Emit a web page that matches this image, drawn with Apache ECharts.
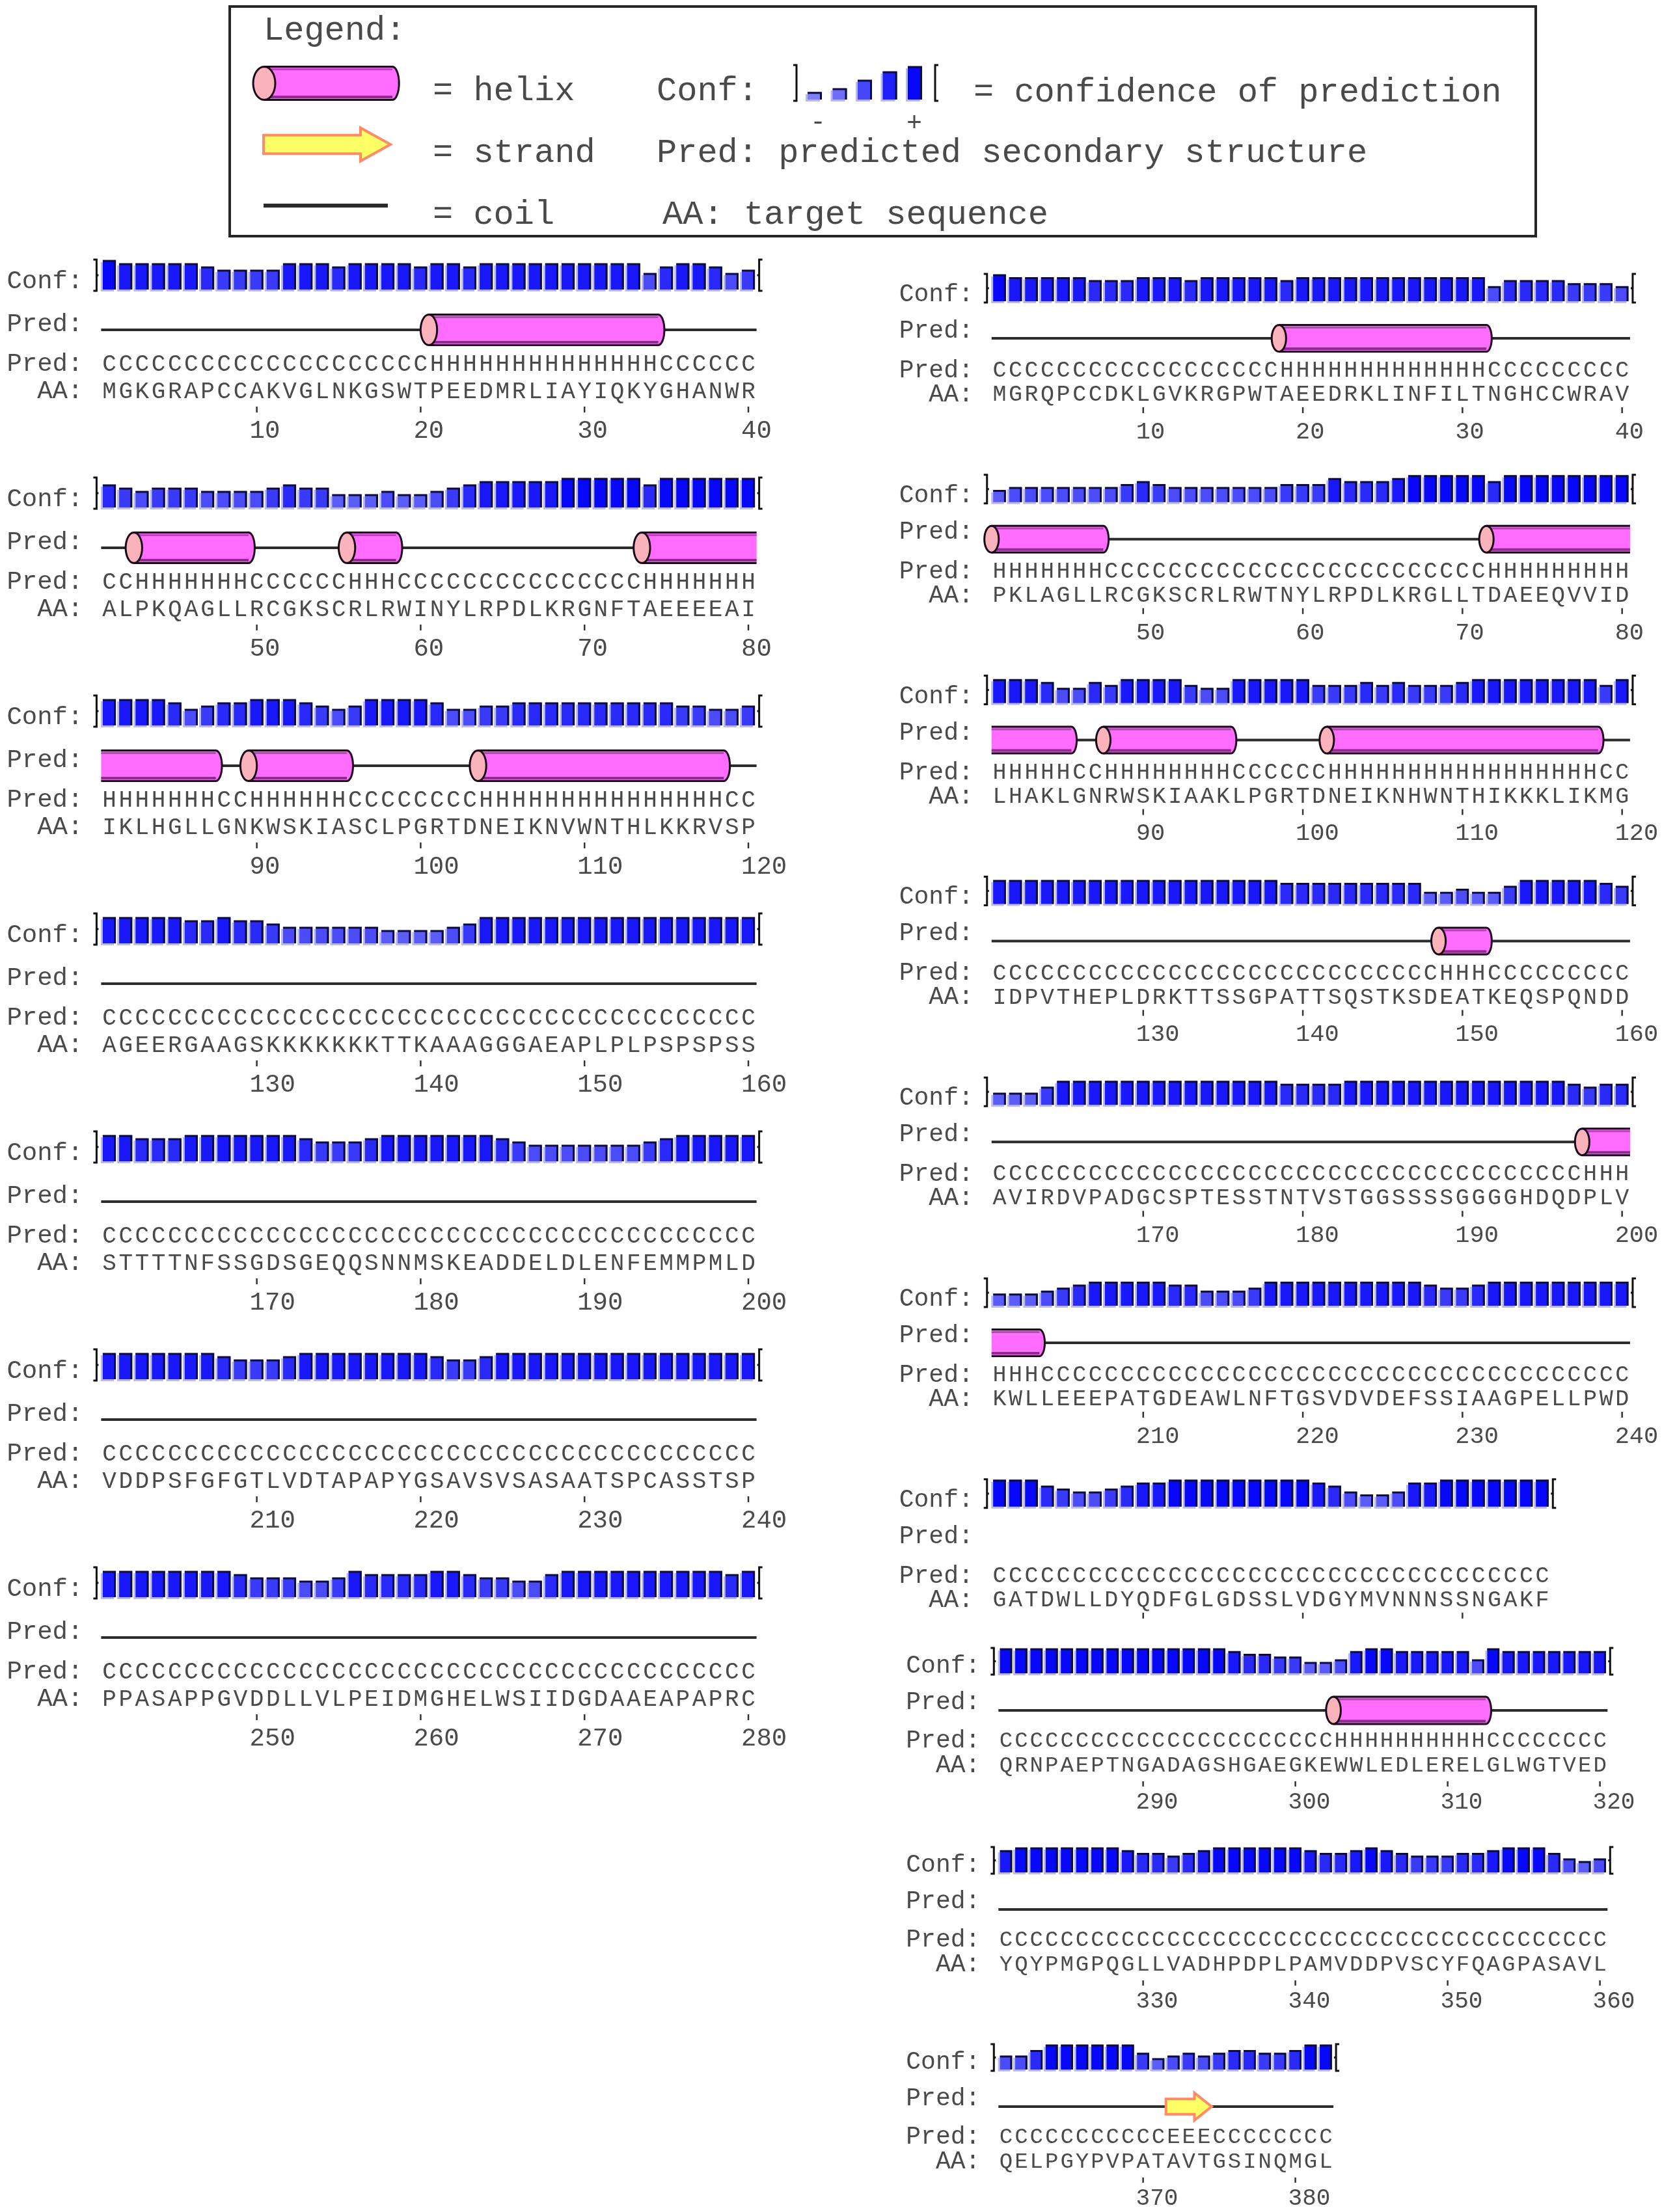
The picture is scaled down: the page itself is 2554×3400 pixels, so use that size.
<!DOCTYPE html>
<html>
<head>
<meta charset="utf-8">
<script src="https://cdn.jsdelivr.net/npm/echarts@6/dist/echarts.min.js"></script>
<style>
  html, body { margin: 0; padding: 0; background: #fff; }
  #chart { width: 2554px; height: 3400px; }
</style>
</head>
<body>
<div id="chart"></div>
<script>
// ---- data: left column (residues 1-280) ----
const leftStart = [1, 41, 81, 121, 161, 201, 241];
const leftAA = [
  'MGKGRAPCCAKVGLNKGSWTPEEDMRLIAYIQKYGHANWR',
  'ALPKQAGLLRCGKSCRLRWINYLRPDLKRGNFTAEEEEAI',
  'IKLHGLLGNKWSKIASCLPGRTDNEIKNVWNTHLKKRVSP',
  'AGEERGAAGSKKKKKKKTTKAAAGGGAEAPLPLPSPSPSS',
  'STTTTNFSSGDSGEQQSNNMSKEADDELDLENFEMMPMLD',
  'VDDPSFGFGTLVDTAPAPYGSAVSVSASAATSPCASSTSP',
  'PPASAPPGVDDLLVLPEIDMGHELWSIIDGDAAEAPAPRC'
];
const leftPred = [
  'CCCCCCCCCC' + 'CCCCCCCCCC' + 'HHHHHHHHHH' + 'HHHHCCCCCC',
  'CCHHHHHHHC' + 'CCCCCHHHCC' + 'CCCCCCCCCC' + 'CCCHHHHHHH',
  'HHHHHHHCCH' + 'HHHHHCCCCC' + 'CCCHHHHHHH' + 'HHHHHHHHCC',
  'CCCCCCCCCC' + 'CCCCCCCCCC' + 'CCCCCCCCCC' + 'CCCCCCCCCC',
  'CCCCCCCCCC' + 'CCCCCCCCCC' + 'CCCCCCCCCC' + 'CCCCCCCCCC',
  'CCCCCCCCCC' + 'CCCCCCCCCC' + 'CCCCCCCCCC' + 'CCCCCCCCCC',
  'CCCCCCCCCC' + 'CCCCCCCCCC' + 'CCCCCCCCCC' + 'CCCCCCCCCC'
];
const leftConf = [
  [9,8,8,8,8,8,7,6,6,6,6,8,8,8,7,8,8,8,8,7,8,8,7,8,8,8,8,8,8,8,8,8,8,5,7,8,8,7,5,6],
  [7,6,5,6,6,6,5,5,5,5,6,7,6,6,4,4,4,5,4,4,5,6,7,8,8,8,8,8,9,9,9,9,9,7,9,9,9,9,9,9],
  [8,8,8,8,7,5,6,7,7,8,8,8,7,6,5,6,8,8,8,8,7,5,5,6,6,7,7,7,7,7,7,7,7,7,7,6,6,5,5,6],
  [8,8,8,8,8,7,7,8,7,7,6,5,5,5,5,5,5,4,4,4,4,5,6,8,8,8,8,8,8,8,8,8,8,8,8,8,8,8,8,8],
  [8,8,7,7,7,8,8,8,8,8,8,8,7,6,6,6,7,8,8,8,8,8,8,8,7,6,5,5,5,5,5,5,5,6,7,8,8,8,8,8],
  [8,8,8,8,8,8,8,7,6,6,6,7,8,8,8,8,8,8,8,8,7,6,6,7,8,8,8,8,8,8,8,8,8,8,8,8,8,8,8,8],
  [8,8,8,8,8,8,8,8,7,6,6,6,5,5,6,8,7,7,7,7,8,8,7,6,6,5,5,7,8,8,8,8,8,8,8,8,8,8,7,8]
];

// ---- data: right column (residues 1-275, 281-382) ----
const rightStart = [1, 41, 81, 121, 161, 201, 241, 281, 321, 361];
const rightAA = [
  'MGRQPCCDKLGVKRGPWTAEEDRKLINFILTNGHCCWRAV',
  'PKLAGLLRCGKSCRLRWTNYLRPDLKRGLLTDAEEQVVID',
  'LHAKLGNRWSKIAAKLPGRTDNEIKNHWNTHIKKKLIKMG',
  'IDPVTHEPLDRKTTSSGPATTSQSTKSDEATKEQSPQNDD',
  'AVIRDVPADGCSPTESSTNTVSTGGSSSSGGGGHDQDPLV',
  'KWLLEEEPATGDEAWLNFTGSVDVDEFSSIAAGPELLPWD',
  'GATDWLLDYQDFGLGDSSLVDGYMVNNNSSNGAKF',
  'QRNPAEPTNGADAGSHGAEGKEWWLEDLERELGLWGTVED',
  'YQYPMGPQGLLVADHPDPLPAMVDDPVSCYFQAGPASAVL',
  'QELPGYPVPATAVTGSINQMGL'
];
const rightPred = [
  'CCCCCCCCCC' + 'CCCCCCCCHH' + 'HHHHHHHHHH' + 'HCCCCCCCCC',
  'HHHHHHHCCC' + 'CCCCCCCCCC' + 'CCCCCCCCCC' + 'CHHHHHHHHH',
  'HHHHHCCHHH' + 'HHHHHCCCCC' + 'CHHHHHHHHH' + 'HHHHHHHHCC',
  'CCCCCCCCCC' + 'CCCCCCCCCC' + 'CCCCCCCCHH' + 'HCCCCCCCCC',
  'CCCCCCCCCC' + 'CCCCCCCCCC' + 'CCCCCCCCCC' + 'CCCCCCCHHH',
  'HHHCCCCCCC' + 'CCCCCCCCCC' + 'CCCCCCCCCC' + 'CCCCCCCCCC',
  'CCCCCCCCCC' + 'CCCCCCCCCC' + 'CCCCCCCCCC' + 'CCCCC',
  'CCCCCCCCCC' + 'CCCCCCCCCC' + 'CCHHHHHHHH' + 'HHCCCCCCCC',
  'CCCCCCCCCC' + 'CCCCCCCCCC' + 'CCCCCCCCCC' + 'CCCCCCCCCC',
  'CCCCCCCCCC' + 'CEEECCCCCC' + 'CC'
];
const rightConf = [
  [9,8,8,8,8,8,7,7,7,8,8,8,7,8,8,8,8,8,7,8,8,8,8,8,8,8,8,8,8,8,8,5,7,7,7,7,6,6,6,5],
  [4,5,5,5,5,5,5,5,6,7,6,5,5,5,5,5,5,5,6,6,6,8,7,7,7,8,9,9,9,9,9,7,9,9,9,9,9,9,9,9],
  [8,8,8,7,5,5,7,6,8,8,8,8,6,5,5,8,8,8,8,8,6,6,6,7,6,7,6,6,6,7,8,8,8,8,8,8,8,8,6,8],
  [8,8,8,8,8,8,8,8,8,8,8,8,8,8,8,8,8,8,7,7,7,7,7,7,7,7,7,4,4,5,4,4,6,8,8,8,8,8,7,6],
  [4,4,4,6,8,8,8,8,8,8,8,8,8,8,8,8,8,8,7,7,7,7,8,8,8,8,8,8,8,8,8,8,8,8,8,8,7,6,7,7],
  [4,4,4,5,6,7,8,8,8,8,8,7,7,5,5,5,6,8,8,8,8,8,8,8,8,8,8,7,6,6,7,8,8,8,8,8,8,8,8,8],
  [9,9,9,7,6,5,5,6,7,8,8,9,9,9,9,9,9,9,9,9,8,7,5,4,4,5,8,8,9,9,9,9,9,9,9],
  [9,9,9,9,9,9,9,9,9,9,9,9,9,9,9,8,7,7,6,6,4,4,5,8,9,9,8,8,8,8,8,5,9,8,8,8,8,8,8,8],
  [8,9,9,9,9,9,9,9,8,7,7,6,7,8,9,9,9,9,9,9,8,7,7,8,9,8,7,6,6,6,7,7,8,9,9,9,7,5,4,5],
  [5,5,7,9,9,9,9,9,9,6,4,5,6,5,6,7,7,6,6,7,9,9]
];

const FONT = '"Liberation Mono", "DejaVu Sans Mono", monospace';
const INK = '#4a4a4a';

// ---- layout of the blocks ----
function leftLay(k) {
  return { x1: 168, step: 25.18, base: 445 + 335 * k, barH: 45, cylH: 47, fs: 36, lfs: 39, nfs: 39,
    off: { conf: -12, predLab: 54, line: 62, pred: 115, aa: 157, t1: 180, t2: 189, num: 218 },
    line: true, numbers: true };
}
function rightLay(k) {
  if (k < 7) {
    return { x1: 1536, step: 24.53, base: 463 + 308.8 * k, barH: 41, cylH: 41, fs: 35, lfs: 38, nfs: 37,
      off: { conf: -10, predLab: 46, line: 57, pred: 107, aa: 144, t1: 163, t2: 172, num: 201 },
      line: k !== 6, numbers: k !== 6 };
  }
  return { x1: 1546, step: 23.4, base: [2572, 2878, 3181][k - 7], barH: 38, cylH: 42, fs: 34, lfs: 38, nfs: 36,
    off: { conf: -11, predLab: 45, line: 57, pred: 104, aa: 142, t1: 166, t2: 174, num: 198 },
    line: true, numbers: true };
}

const blocks = [];
function addColumn(starts, aa, pred, conf, lay) {
  const col = starts.map(function (s, k) {
    return Object.assign({ start: s, aa: aa[k], pred: pred[k], conf: conf[k], n: aa[k].length }, lay(k));
  });
  col.forEach(function (b, k) {
    const prev = col[k - 1], next = col[k + 1];
    b.prevSS = prev && prev.start + prev.n === b.start ? prev.pred[prev.n - 1] : 'C';
    b.nextSS = next && b.start + b.n === next.start ? next.pred[0] : 'C';
    blocks.push(b);
  });
}
addColumn(leftStart, leftAA, leftPred, leftConf, leftLay);
addColumn(rightStart, rightAA, rightPred, rightConf, rightLay);

// runs of the same state -> [from, to, type, openLeft, openRight]
function segments(b) {
  const out = [];
  let i = 0;
  while (i < b.n) {
    const t = b.pred[i];
    let j = i;
    while (j + 1 < b.n && b.pred[j + 1] === t) j++;
    const openL = i === 0 && t !== 'C' && b.prevSS === t;
    const openR = j === b.n - 1 && t !== 'C' && b.nextSS === t;
    out.push([b.start + i, b.start + j, t === 'H' ? 1 : (t === 'E' ? 2 : 0), openL ? 1 : 0, openR ? 1 : 0]);
    i = j + 1;
  }
  return out.sort(function (a, c) { return a[2] - c[2]; });
}

// ---- drawing helpers ----
function label(x, y, s, size, align) {
  return { type: 'text', silent: true,
    style: { x: x, y: y, text: s, font: size + 'px ' + FONT, fill: INK, align: align || 'center', verticalAlign: 'middle' } };
}

function confColor(c) {
  const v = Math.max(0, Math.round(160 - 17 * c));
  return 'rgb(' + v + ',' + v + ',250)';
}

function barShapes(xc, w, yTop, yBot, c) {
  const x0 = xc - w / 2, h = yBot - yTop;
  return [
    { type: 'rect', shape: { x: x0 - 3, y: yTop + 3, width: w, height: h }, style: { fill: '#b9b9ea' } },
    { type: 'rect', shape: { x: x0, y: yTop, width: w, height: h }, style: { fill: confColor(c) } },
    { type: 'polyline', shape: { points: [[x0, yTop + 1], [x0 + w - 1.5, yTop + 1], [x0 + w - 1.5, yBot]] },
      style: { stroke: '#0c0c40', lineWidth: 3, fill: 'none' } }
  ];
}

// points along an ellipse arc
function arcPoints(cx, cy, rx, ry, a0, a1, n) {
  const pts = [];
  for (let i = 0; i <= n; i++) {
    const a = a0 + (a1 - a0) * i / n;
    pts.push([cx + rx * Math.cos(a), cy + ry * Math.sin(a)]);
  }
  return pts;
}

function helixShapes(xs, xe, yc, h, openL, openR, erx) {
  const top = yc - h / 2, bot = yc + h / 2;
  const cap = openR ? [[xe, top], [xe, bot]] : arcPoints(xe, yc, h * 0.2, h / 2, -Math.PI / 2, Math.PI / 2, 16);
  const outline = [[xs, top]].concat(cap, [[xs, bot]]);
  const els = [
    { type: 'polygon', shape: { points: outline }, style: { fill: '#ff6cff' } },
    { type: 'line', shape: { x1: xs, y1: top + 4, x2: xe, y2: top + 4 }, style: { stroke: '#b04cb0', lineWidth: 3 } },
    { type: 'line', shape: { x1: xs, y1: bot - 4.5, x2: xe, y2: bot - 4.5 }, style: { stroke: '#8a2e8a', lineWidth: 4 } }
  ];
  if (openR) {
    els.push({ type: 'line', shape: { x1: xs, y1: top, x2: xe, y2: top }, style: { stroke: '#1a0a1a', lineWidth: 3 } });
    els.push({ type: 'line', shape: { x1: xs, y1: bot, x2: xe, y2: bot }, style: { stroke: '#1a0a1a', lineWidth: 3 } });
  } else {
    els.push({ type: 'polyline', shape: { points: outline }, style: { fill: 'none', stroke: '#1a0a1a', lineWidth: 3 } });
  }
  if (!openL) {
    els.push({ type: 'polygon', shape: { points: arcPoints(xs, yc, erx, h / 2, 0, Math.PI * 2, 32) },
      style: { fill: '#fbb3bb', stroke: '#1a0a1a', lineWidth: 3 } });
  }
  return els;
}

function strandShapes(xs, xe, yc, h, hl) {
  const s = h * 0.28, t = h / 2, xh = xe - hl;
  return [{ type: 'polygon',
    shape: { points: [[xs, yc - s], [xh, yc - s], [xh, yc - t], [xe, yc], [xh, yc + t], [xh, yc + s], [xs, yc + s]] },
    style: { fill: '#ffff66', stroke: '#ff8a66', lineWidth: 4, lineJoin: 'miter' } }];
}

// ---- custom series renderers ----
function barItem(params, api) {
  const r = api.value(0), c = api.value(1);
  const bot = api.coord([r, 0]), top = api.coord([r, c]);
  const w = api.size([1, 0])[0] * 0.8;
  return { type: 'group', children: barShapes(bot[0], w, top[1], bot[1], c) };
}

function structItem(b) {
  return function (params, api) {
    const s = api.value(0), e = api.value(1), t = api.value(2);
    const a = api.coord([s - 0.5, 0]), z = api.coord([e + 0.5, 0]);
    const yc = a[1] + b.off.line;
    if (t === 0) {
      if (!b.line) return null;
      return { type: 'line', shape: { x1: a[0], y1: yc, x2: z[0], y2: yc }, style: { stroke: '#2b2b2b', lineWidth: 4 } };
    }
    if (t === 1) {
      return { type: 'group', children: helixShapes(a[0], z[0], yc, b.cylH, api.value(3) === 1, api.value(4) === 1, b.cylH * 0.27) };
    }
    return { type: 'group', children: strandShapes(a[0], z[0], yc, b.cylH, b.cylH * 0.63) };
  };
}

function seqItem(b) {
  return function (params, api) {
    const r = api.value(0), i = r - b.start;
    const p = api.coord([r, 0]);
    const ch = [
      label(p[0], p[1] + b.off.pred, b.pred[i], b.fs),
      label(p[0], p[1] + b.off.aa, b.aa[i], b.fs)
    ];
    if (r % 10 === 0) {
      ch.push({ type: 'line', shape: { x1: p[0], y1: p[1] + b.off.t1, x2: p[0], y2: p[1] + b.off.t2 },
        style: { stroke: '#333', lineWidth: 2.5 } });
      if (b.numbers) ch.push(label(p[0] - 11, p[1] + b.off.num, String(r), b.nfs, 'left'));
    }
    return { type: 'group', children: ch };
  };
}

function frameItem(b) {
  return function (params, api) {
    const lo = api.coord([api.value(0) - 0.5, 0]), hi = api.coord([api.value(1) + 0.5, 9]);
    const top = hi[1] - 1, bot = lo[1] + 2, mid = (top + bot) / 2;
    const xl = lo[0] - 7, xr = hi[0] + 4, lx = lo[0] - 28;
    const ink = { stroke: '#111', lineWidth: 3, fill: 'none' };
    return { type: 'group', children: [
      { type: 'polyline', shape: { points: [[xl - 5, top], [xl, top], [xl, bot], [xl - 5, bot]] }, style: ink },
      { type: 'line', shape: { x1: xl, y1: mid, x2: xl + 3, y2: mid }, style: ink },
      { type: 'polyline', shape: { points: [[xr + 5, top], [xr, top], [xr, bot], [xr + 5, bot]] }, style: ink },
      { type: 'line', shape: { x1: xr, y1: mid, x2: xr - 3, y2: mid }, style: ink },
      label(lx, lo[1] + b.off.conf, 'Conf:', b.lfs, 'right'),
      label(lx, lo[1] + b.off.predLab, 'Pred:', b.lfs, 'right'),
      label(lx, lo[1] + b.off.pred, 'Pred:', b.lfs, 'right'),
      label(lx, lo[1] + b.off.aa, 'AA:', b.lfs, 'right')
    ] };
  };
}

// ---- option ----
const grid = [], xAxis = [], yAxis = [], series = [];
blocks.forEach(function (b, k) {
  grid.push({ left: b.x1 - b.step / 2, top: b.base - b.barH, width: b.n * b.step, height: b.barH });
  xAxis.push({ gridIndex: k, type: 'value', min: b.start - 0.5, max: b.start + b.n - 0.5, show: false });
  yAxis.push({ gridIndex: k, type: 'value', min: 0, max: 9, show: false });
  const common = { type: 'custom', xAxisIndex: k, yAxisIndex: k, silent: true, animation: false, clip: false };
  series.push(Object.assign({ data: b.conf.map(function (c, i) { return [b.start + i, c]; }), renderItem: barItem }, common));
  series.push(Object.assign({ data: segments(b), renderItem: structItem(b) }, common));
  series.push(Object.assign({ data: b.aa.split('').map(function (ch, i) { return [b.start + i, 0]; }), renderItem: seqItem(b) }, common));
  series.push(Object.assign({ data: [[b.start, b.start + b.n - 1]], renderItem: frameItem(b) }, common));
});

// legend key box at the top
const legendLevels = [2, 3, 5.3, 7.6, 9];
const legendEls = [
  { type: 'rect', shape: { x: 353, y: 10, width: 2007, height: 353 }, style: { fill: '#fff', stroke: '#262626', lineWidth: 4 } },
  label(405, 47, 'Legend:', 52, 'left'),
  { type: 'group', children: helixShapes(406, 603, 128, 51, false, false, 17) },
  label(665, 140, '= helix', 52, 'left'),
  label(1009, 140, 'Conf:', 52, 'left'),
  { type: 'polyline', shape: { points: [[1219, 100], [1224, 100], [1224, 155], [1219, 155]] }, style: { stroke: '#111', lineWidth: 3, fill: 'none' } },
  { type: 'polyline', shape: { points: [[1442, 100], [1437, 100], [1437, 155], [1442, 155]] }, style: { stroke: '#111', lineWidth: 3, fill: 'none' } },
  label(1257, 188, '-', 40),
  label(1405, 190, '+', 40),
  label(1496, 142, '= confidence of prediction', 52, 'left'),
  { type: 'group', children: strandShapes(405, 600, 222, 51, 46) },
  label(665, 235, '= strand', 52, 'left'),
  label(1009, 235, 'Pred: predicted secondary structure', 52, 'left'),
  { type: 'line', shape: { x1: 405, y1: 316, x2: 596, y2: 316 }, style: { stroke: '#2b2b2b', lineWidth: 6 } },
  label(665, 330, '= coil', 52, 'left'),
  label(1018, 330, 'AA: target sequence', 52, 'left')
];
legendLevels.forEach(function (c, i) {
  legendEls.push({ type: 'group', children: barShapes(1252 + i * 38.5, 22, 153 - c * 5.67, 153, c) });
});

const chart = echarts.init(document.getElementById('chart'), null, { width: 2554, height: 3400 });
chart.setOption({
  backgroundColor: '#ffffff',
  animation: false,
  grid: grid,
  xAxis: xAxis,
  yAxis: yAxis,
  series: series,
  graphic: legendEls
});
</script>
</body>
</html>
